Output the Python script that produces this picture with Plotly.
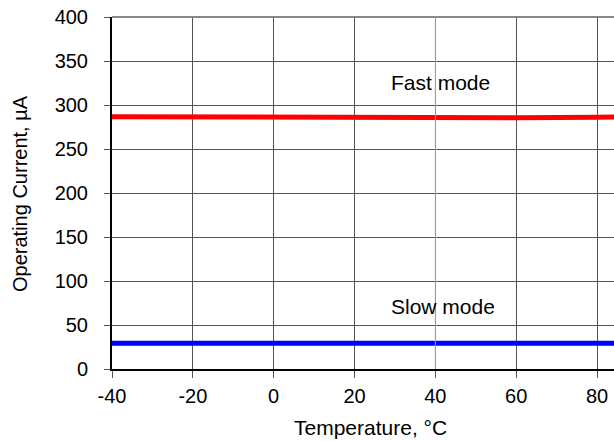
import plotly.graph_objects as go

temps = [-40, -20, 0, 20, 40, 60, 80, 85]
fast_mode = [286.7, 286.2, 285.8, 285.4, 285.2, 285.6, 286.2, 286.5]
slow_mode = [29.4, 29.3, 29.3, 29.3, 29.3, 29.3, 29.3, 29.3]
x_ticks = [-40, -20, 0, 20, 40, 60, 80]
y_ticks = [0, 50, 100, 150, 200, 250, 300, 350, 400]

FONT = "Liberation Sans, Arial, sans-serif"

fig = go.Figure()
fig.add_trace(go.Scatter(x=temps, y=fast_mode, mode="lines",
                         line=dict(color="#ff0000", width=5), showlegend=False))
fig.add_trace(go.Scatter(x=temps, y=slow_mode, mode="lines",
                         line=dict(color="#0000ff", width=5), showlegend=False))

fig.update_layout(
    width=614, height=441,
    margin=dict(l=112, r=0, t=17, b=72),
    paper_bgcolor="white", plot_bgcolor="white",
    font=dict(family=FONT, size=20, color="black"),
    xaxis=dict(range=[-40, 84.2], tickvals=x_ticks, ticktext=[str(v) for v in x_ticks],
               ticks="outside", ticklen=7, tickcolor="#555555", tickwidth=1,
               showline=True, linecolor="black", linewidth=2,
               showgrid=True, gridcolor="#555555", gridwidth=1, zeroline=False,
               ticklabelstandoff=1),
    yaxis=dict(range=[0, 400], tickvals=y_ticks, ticktext=[str(v) for v in y_ticks],
               ticks="outside", ticklen=6, tickcolor="#555555", tickwidth=1,
               showline=True, linecolor="black", linewidth=2,
               showgrid=True, gridcolor="#555555", gridwidth=1, zeroline=False,
               ticklabelstandoff=12),
    shapes=[
        dict(type="line", xref="paper", yref="paper", x0=0, x1=1, y0=1, y1=1,
             line=dict(color="#888888", width=2)),
        dict(type="line", xref="x", yref="paper", x0=40, x1=40, y0=0, y1=1,
             line=dict(color="#aaaaaa", width=1), layer="above"),
    ],
    annotations=[
        dict(text="Fast mode", x=41.2, y=325.6, xref="x", yref="y",
             showarrow=False, xanchor="center", yanchor="middle", font=dict(size=21)),
        dict(text="Slow mode", x=41.9, y=71, xref="x", yref="y",
             showarrow=False, xanchor="center", yanchor="middle", font=dict(size=21)),
        dict(text="Temperature, °C", x=0.514, y=-0.1648, xref="paper", yref="paper",
             showarrow=False, xanchor="center", yanchor="middle", font=dict(size=21)),
        dict(text="Operating Current, µA", x=-0.1833, y=0.5, xref="paper", yref="paper",
             showarrow=False, xanchor="center", yanchor="middle", textangle=-90),
    ],
)

fig.write_html(
    "out.html",
    config={"displayModeBar": False},
    post_script="document.body.style.margin='0';document.body.style.overflow='hidden';",
)
